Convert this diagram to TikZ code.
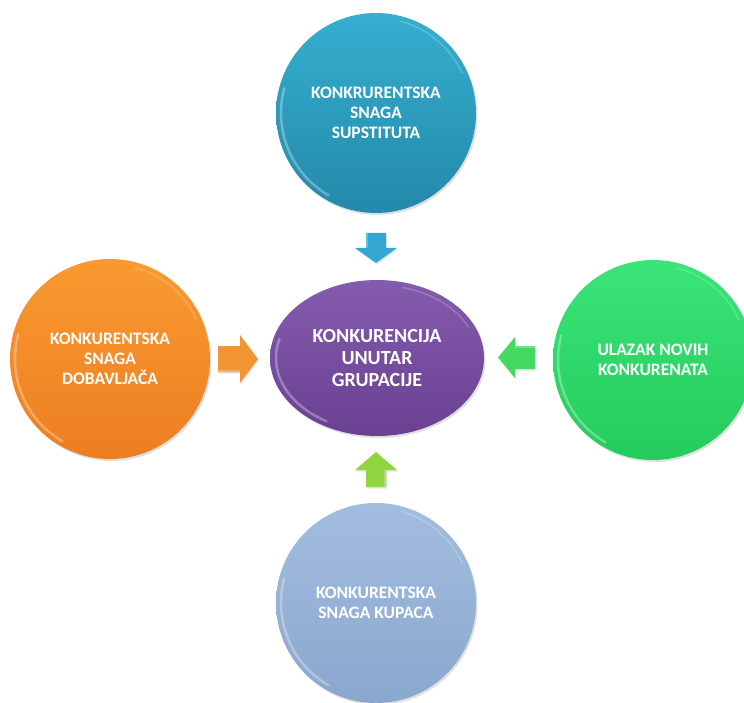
\documentclass[tikz,border=0pt]{standalone}
\usepackage{fontspec}
\setmainfont{Carlito}[BoldFont={Carlito Bold}]
\usetikzlibrary{shadows,calc,shapes.geometric}
\definecolor{tealT}{HTML}{35AFD0}
\definecolor{tealB}{HTML}{2489AA}
\definecolor{orgT}{HTML}{F99A30}
\definecolor{orgB}{HTML}{EC7E22}
\definecolor{purT}{HTML}{845CAD}
\definecolor{purB}{HTML}{6A4092}
\definecolor{grnT}{HTML}{3AE477}
\definecolor{grnB}{HTML}{24CC5C}
\definecolor{lbT}{HTML}{A2BDDE}
\definecolor{lbB}{HTML}{8AA7CE}
\definecolor{arTeal}{HTML}{34A8D2}
\definecolor{arOrg}{HTML}{F39434}
\definecolor{arGrn}{HTML}{45D862}
\definecolor{arLime}{HTML}{8FD63E}
\tikzset{
  bubble/.style={circle, minimum size=200pt, inner sep=0pt, align=center,
    text=white, font=\fontsize{17.5}{20}\selectfont\bfseries,
    drop shadow={opacity=0.25, shadow xshift=1.5pt, shadow yshift=-2pt}},
  hub/.style={ellipse, minimum width=214pt, minimum height=156pt, inner sep=0pt, align=center,
    text=white, font=\fontsize{20}{21.7}\selectfont\bfseries,
    drop shadow={opacity=0.25, shadow xshift=1.5pt, shadow yshift=-2pt}},
  rimhi/.style={white, opacity=0.3, line width=2.5pt, line cap=round},
  rimlo/.style={white, opacity=0.2, line width=1.5pt, line cap=round},
}
% block arrow pointing along +x, centred at #1, rotated by #2
\newcommand{\blockarr}[7]{% #1 center, #2 angle, #3 length, #4 head width, #5 shaft width, #6 head length, #7 color
  \begin{scope}[shift={#1}, rotate=#2]
    \fill[#7, drop shadow={opacity=0.2, shadow xshift=1pt, shadow yshift=-1.5pt}]
      (-#3/2, -#5/2) -- (#3/2-#6, -#5/2) -- (#3/2-#6, -#4/2) -- (#3/2, 0)
      -- (#3/2-#6, #4/2) -- (#3/2-#6, #5/2) -- (-#3/2, #5/2) -- cycle;
    \fill[white, opacity=0.25]
      (-#3/2, #5/2) -- (#3/2-#6, #5/2) -- (#3/2-#6, #5/2-2) -- (-#3/2, #5/2-2) -- cycle;
  \end{scope}}
\begin{document}
\begin{tikzpicture}[x=1pt, y=-1pt]
\useasboundingbox (0,0) rectangle (744,703);
% nodes
\node[bubble, top color=tealT, bottom color=tealB] (sub) at (376,113) {KONKRURENTSKA\\SNAGA\\SUPSTITUTA};
\node[bubble, top color=orgT, bottom color=orgB] (dob) at (110,359) {KONKURENTSKA\\SNAGA\\DOBAVLJAČA};
\node[bubble, top color=grnT, bottom color=grnB] (nov) at (653,360) {ULAZAK NOVIH\\KONKURENATA};
\node[bubble, top color=lbT, bottom color=lbB] (kup) at (376,603) {KONKURENTSKA\\SNAGA KUPACA};
\node[hub, top color=purT, bottom color=purB] (hub) at (377,358) {KONKURENCIJA\\UNUTAR\\GRUPACIJE};
% bevel highlights
\foreach \n in {sub,dob,nov,kup}{
  \draw[rimhi] ($(\n.center)+(120:95)$) arc[start angle=120, end angle=195, radius=95];
  \draw[rimlo] ($(\n.center)+(-25:95)$) arc[start angle=-25, end angle=-75, radius=95];
}
\draw[rimhi] ($(hub.center)+(120:{101} and {73})$) arc[start angle=120, end angle=195, x radius=101, y radius=73];
\draw[rimlo] ($(hub.center)+(-25:{101} and {73})$) arc[start angle=-25, end angle=-75, x radius=101, y radius=73];
% block arrows between the nodes
\blockarr{(376,248)}{-90}{30}{42}{20}{15}{arTeal}
\blockarr{(238,359)}{0}{40}{48}{26}{18}{arOrg}
\blockarr{(516.5,357.5)}{180}{37}{41}{23}{17}{arGrn}
\blockarr{(376,469.5)}{90}{35}{42}{20}{18}{arLime}
\end{tikzpicture}
\end{document}
